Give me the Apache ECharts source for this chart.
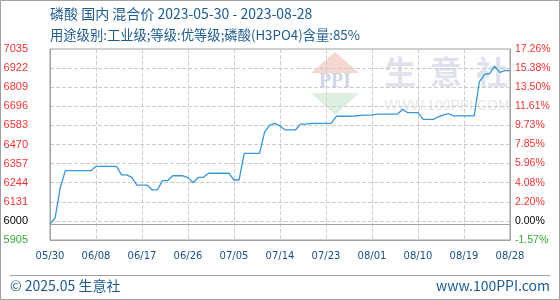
<!DOCTYPE html>
<html><head><meta charset="utf-8">
<script src="https://cdn.jsdelivr.net/npm/echarts@6/dist/echarts.min.js"></script>
<style>html,body{margin:0;padding:0;background:#fff}#c{width:560px;height:300px}</style>
</head><body><div id="c"></div>
<script>
// ---- data ----
const startDate = '2023-05-30';
const dayCount = 91;
const prices = [
  6000, 6035, 6215, 6315, 6315, 6315, 6315, 6315, 6315, 6341,
  6341, 6341, 6341, 6341, 6290, 6290, 6276, 6230, 6230, 6230,
  6201, 6201, 6256, 6256, 6285, 6285, 6285, 6274, 6244, 6276,
  6276, 6300, 6300, 6300, 6300, 6300, 6260, 6260, 6418, 6418,
  6418, 6418, 6545, 6585, 6595, 6580, 6556, 6556, 6556, 6590,
  6590, 6595, 6595, 6595, 6595, 6595, 6637, 6637, 6637, 6637,
  6640, 6642, 6644, 6645, 6650, 6650, 6650, 6650, 6650, 6678,
  6658, 6658, 6658, 6619, 6619, 6619, 6634, 6645, 6652, 6639,
  6639, 6639, 6639, 6639, 6840, 6885, 6890, 6934, 6897, 6907,
  6907
];
const leftTickLabels = ['5905','6000','6131','6244','6357','6470','6583','6696','6809','6922','7035'];
const rightTickLabels = ['-1.57%','0.00%','2.20%','4.08%','5.96%','7.85%','9.73%','11.61%','13.50%','15.38%','17.26%'];
const yMin = 5905, yMax = 7035, yStep = 113, basePrice = 6000;
const titleLine1 = '磷酸 国内 混合价 2023-05-30 - 2023-08-28';
const titleLine2 = '用途级别:工业级;等级:优等级;磷酸(H3PO4)含量:85%';
const footLeft = '© 2025.05 生意社';
const footRight = 'www.100PPI.com';

// categories
const categories = [];
{
  const d0 = new Date(startDate + 'T00:00:00Z');
  for (let i = 0; i < dayCount; i++) {
    const d = new Date(d0.getTime() + i * 86400000);
    categories.push(String(d.getUTCMonth() + 1).padStart(2, '0') + '/' + String(d.getUTCDate()).padStart(2, '0'));
  }
}

const idx = v => Math.round((v - yMin) / yStep);

const chart = echarts.init(document.getElementById('c'), null, {renderer: 'canvas'});
const blue = '#1e5b8f';
chart.setOption({
  animation: false,
  grid: {left: 50, right: 50, top: 49, bottom: 60, show: true, borderColor: '#a0a0a0', borderWidth: 1, backgroundColor: 'transparent'},
  xAxis: {
    type: 'category', data: categories, boundaryGap: false,
    axisLine: {show: true, lineStyle: {color: '#a0a0a0'}},
    axisTick: {show: false},
    axisLabel: {interval: 8, color: '#1a4f80', fontFamily: 'DejaVu Sans', fontSize: 10, margin: 11},
    splitLine: {show: true, interval: 8, lineStyle: {color: '#cccccc', type: 'dashed'}}
  },
  yAxis: [{
    type: 'value', min: yMin, max: yMax, interval: yStep,
    axisLine: {show: true, lineStyle: {color: '#a0a0a0'}},
    axisTick: {show: false},
    axisLabel: {margin: 22, fontFamily: 'Liberation Sans', fontSize: 11,
      formatter: v => '{c' + Math.min(idx(v), 2) + '|' + leftTickLabels[idx(v)] + '}',
      rich: {c0: {color: '#33aa33', fontFamily: 'Liberation Sans', fontSize: 11}, c1: {color: '#000', fontFamily: 'Liberation Sans', fontSize: 11}, c2: {color: '#ee3333', fontFamily: 'Liberation Sans', fontSize: 11}}},
    splitLine: {show: true, lineStyle: {color: '#cccccc', type: 'dashed'}}
  }, {
    type: 'value', min: yMin, max: yMax, interval: yStep, position: 'right',
    axisLine: {show: true, lineStyle: {color: '#a0a0a0'}},
    axisTick: {show: false},
    axisLabel: {margin: 5, fontFamily: 'Liberation Sans', fontSize: 10.5,
      formatter: v => '{c' + Math.min(idx(v), 2) + '|' + rightTickLabels[idx(v)] + '}',
      rich: {c0: {color: '#33aa33', fontFamily: 'Liberation Sans', fontSize: 10.5}, c1: {color: '#000', fontFamily: 'Liberation Sans', fontSize: 10.5}, c2: {color: '#ee3333', fontFamily: 'Liberation Sans', fontSize: 10.5}}},
    splitLine: {show: false}
  }],
  series: [{
    type: 'line', data: prices, showSymbol: false, symbol: 'none',
    lineStyle: {color: '#3a97d6', width: 1.3}, z: 5,
    markLine: {silent: true, symbol: 'none', label: {show: false},
      lineStyle: {color: '#a0a0a0', type: 'solid', width: 1},
      data: [{yAxis: basePrice}]}
  }],
  graphic: [
    {type: 'rect', z: -10, shape: {x: 0.5, y: 0.5, width: 559, height: 299}, style: {fill: 'none', stroke: '#a0a0a0', lineWidth: 1}},
    {type: 'polygon', z: -5, shape: {points: [[335, 52], [311, 73], [359, 73]]}, style: {fill: '#f6d6d0'}},
    {type: 'text', z: -5, style: {x: 335, y: 82, text: 'PPI', fill: '#cfd6e8', font: 'bold 20px "Liberation Serif"', align: 'center', verticalAlign: 'middle'}},
    {type: 'polygon', z: -5, shape: {points: [[311, 93], [359, 93], [335, 115]]}, style: {fill: '#dcefe0'}},
    {type: 'text', z: -5, style: {x: 400, y: 72, text: '生', fill: '#dfe2ec', font: 'bold 32px "Noto Sans CJK SC"', align: 'center', verticalAlign: 'middle'}},
    {type: 'text', z: -5, style: {x: 446, y: 72, text: '意', fill: '#dfe2ec', font: 'bold 32px "Noto Sans CJK SC"', align: 'center', verticalAlign: 'middle'}},
    {type: 'text', z: -5, style: {x: 492, y: 72, text: '社', fill: '#dfe2ec', font: 'bold 32px "Noto Sans CJK SC"', align: 'center', verticalAlign: 'middle'}},
    {type: 'text', z: -5, style: {x: 447, y: 106, text: 'WWW.100PPI.COM', fill: '#e6e7ec', font: '14px "Liberation Sans"', align: 'center', verticalAlign: 'middle'}},
    {type: 'text', style: {x: 50, y: 14, text: titleLine1, fill: blue, font: '14px "Noto Sans CJK SC"', verticalAlign: 'middle'}},
    {type: 'text', style: {x: 50, y: 35, text: titleLine2, fill: blue, font: '13.3px "Noto Sans CJK SC"', verticalAlign: 'middle'}},
    {type: 'line', shape: {x1: 10, y1: 275.5, x2: 550, y2: 275.5}, style: {stroke: '#a0a0a0', lineWidth: 1}},
    {type: 'text', style: {x: 10, y: 286, text: footLeft, fill: blue, font: '14px "Noto Sans CJK SC"', verticalAlign: 'middle'}},
    {type: 'text', style: {x: 550, y: 286, text: footRight, fill: blue, font: '14px "Noto Sans CJK SC"', align: 'right', verticalAlign: 'middle'}}
  ]
});
</script></body></html>
